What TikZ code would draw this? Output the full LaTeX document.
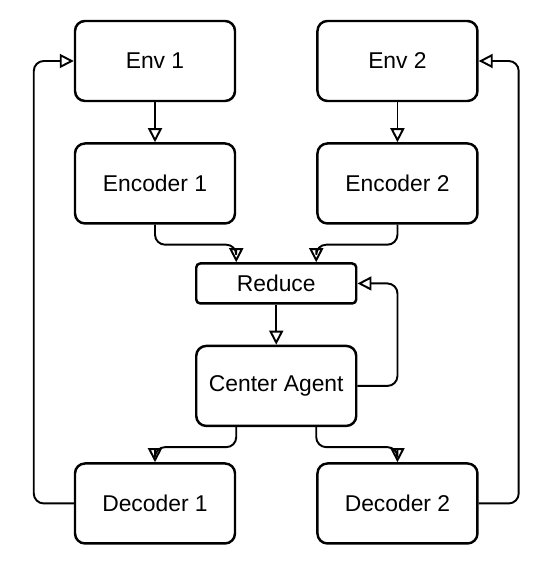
\documentclass[tikz,border=0pt]{standalone}
\usepackage{fontspec}
\setmainfont{Liberation Sans}
\usepackage{tikz}
\usetikzlibrary{arrows.meta,positioning,calc}

\begin{document}
\begin{tikzpicture}[-{Triangle[open,length=2.8mm,width=2.8mm]},node distance=8mm,
                    line width=1.1pt,rounded corners=2mm,
                    block/.style={rectangle,draw,line width=1.4pt,rounded corners=2mm,
                      minimum width=32mm,minimum height=16mm,
                      font=\fontsize{13}{15}\selectfont},
                    thin block/.style={block,minimum height=8mm,rounded corners=0.8mm}]

  \useasboundingbox (0,0) rectangle (110.4mm,-112.4mm);

  \node[block] (env1) at (31mm,-12.2mm) {Env 1};
  \node[block] (env2) [right=16mm of env1] {Env 2};
  \node[block] (enc1) [below=of env1] {Encoder 1};
  \node[block] (enc2) [below=of env2] {Encoder 2};
  \node[thin block] (reduce) at ($(enc1)!0.5!(enc2)+(0,-20mm)$) {Reduce};
  \node[block] (agent) [below=of reduce] {Center Agent};
  \node[block] (dec1) at ($(enc1)+(0,-64mm)$) {Decoder 1};
  \node[block] (dec2) at ($(enc2)+(0,-64mm)$) {Decoder 2};

  \path (env1) edge (enc1)
        (env2) edge (enc2)
        (reduce) edge (agent);

  \draw (enc1.south) -- ++(0,-4mm) -| ([xshift=-8mm]reduce.north);
  \draw (enc2.south) -- ++(0,-4mm) -| ([xshift=8mm]reduce.north);
  \draw (agent.east) -- ++(8mm,0) |- (reduce.east);
  \draw ([xshift=-8mm]agent.south) -- ++(0,-4mm) -| (dec1.north);
  \draw ([xshift=8mm]agent.south) -- ++(0,-4mm) -| (dec2.north);
  \draw (dec1.west) -- ++(-8mm,0) |- (env1.west);
  \draw (dec2.east) -- ++(8mm,0) |- (env2.east);
\end{tikzpicture}
\end{document}
